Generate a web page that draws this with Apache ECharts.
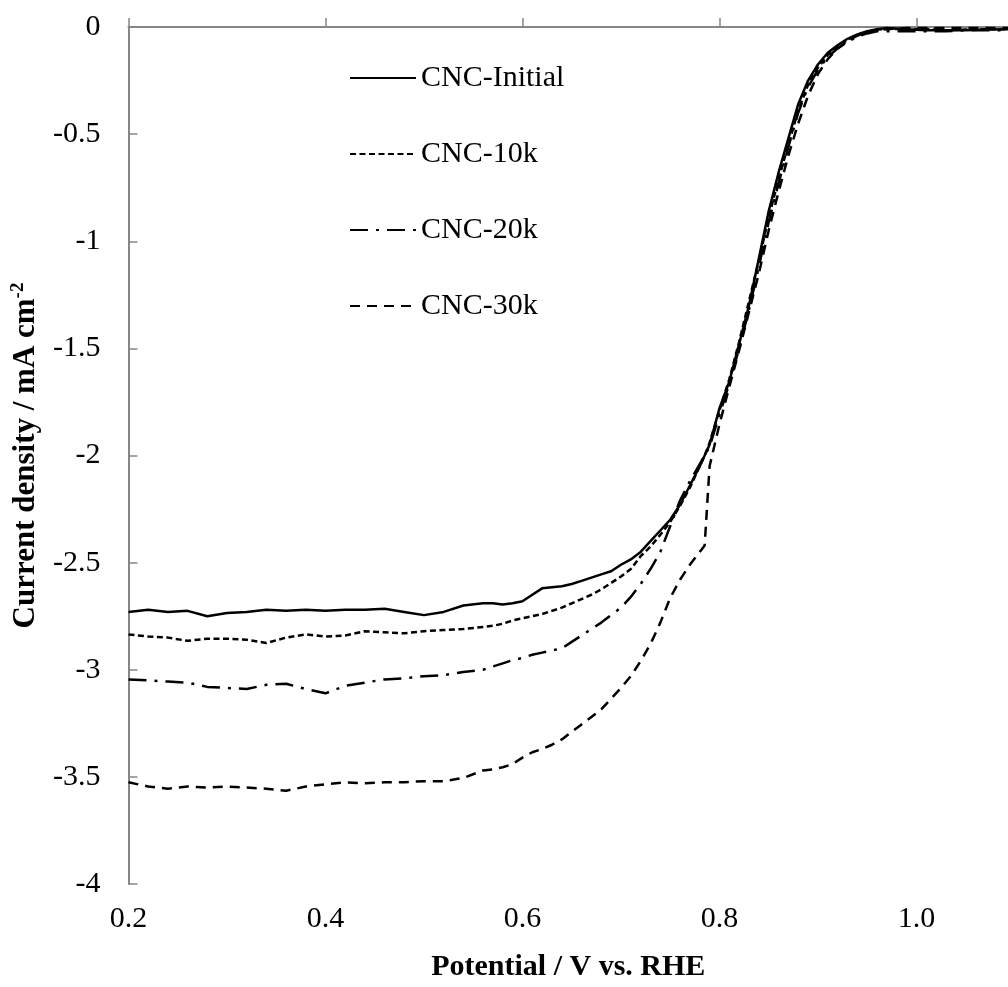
<!DOCTYPE html>
<html>
<head>
<meta charset="utf-8">
<script src="https://cdn.jsdelivr.net/npm/echarts@6/dist/echarts.min.js"></script>
<style>
html,body{margin:0;padding:0;background:#fff;}
#chart{width:1008px;height:987px;}
</style>
</head>
<body>
<div id="chart"></div>
<script>
// Potential (V vs. RHE)
const potential = [0.20,0.22,0.24,0.26,0.28,0.30,0.32,0.34,0.36,0.38,0.40,0.42,0.44,0.46,0.48,0.50,0.52,0.54,0.56,
  0.57,0.58,0.59,0.60,0.61,0.62,0.63,0.64,0.65,0.66,0.67,0.68,0.69,0.70,0.71,0.72,0.73,0.74,0.75,0.76,0.77,0.78,0.785,
  0.79,0.80,0.81,0.82,0.83,0.84,0.85,0.86,0.87,0.88,0.89,0.90,0.91,0.92,0.93,0.94,0.95,0.96,0.97,
  0.99,1.01,1.03,1.05,1.07,1.093];

const cncInitial = [-2.73,-2.72,-2.73,-2.725,-2.75,-2.735,-2.73,-2.72,-2.725,-2.72,-2.725,-2.72,-2.72,-2.715,-2.73,-2.745,-2.73,-2.70,-2.69,
  -2.69,-2.695,-2.69,-2.68,-2.65,-2.62,-2.615,-2.61,-2.60,-2.585,-2.57,-2.555,-2.54,-2.51,-2.485,-2.45,-2.40,-2.35,-2.30,-2.23,-2.14,-2.05,-2.00,
  -1.95,-1.78,-1.655,-1.48,-1.30,-1.08,-0.86,-0.68,-0.52,-0.36,-0.25,-0.175,-0.12,-0.085,-0.055,-0.035,-0.02,-0.01,-0.005,
  -0.01,-0.015,-0.015,-0.015,-0.012,-0.01];

const cnc10k = [-2.835,-2.845,-2.85,-2.865,-2.855,-2.855,-2.86,-2.875,-2.85,-2.835,-2.845,-2.84,-2.82,-2.825,-2.83,-2.82,-2.815,-2.81,-2.80,
  -2.795,-2.785,-2.77,-2.76,-2.75,-2.74,-2.725,-2.71,-2.69,-2.67,-2.65,-2.625,-2.595,-2.565,-2.53,-2.47,-2.425,-2.37,-2.31,-2.235,-2.15,-2.05,-2.00,
  -1.94,-1.79,-1.645,-1.47,-1.28,-1.09,-0.89,-0.71,-0.55,-0.39,-0.27,-0.19,-0.13,-0.09,-0.06,-0.04,-0.025,-0.012,-0.008,
  -0.01,-0.01,-0.015,-0.012,-0.01,-0.01];

const cnc20k = [-3.045,-3.05,-3.055,-3.06,-3.08,-3.085,-3.09,-3.07,-3.065,-3.09,-3.11,-3.075,-3.06,-3.045,-3.04,-3.03,-3.025,-3.01,-3.00,
  -2.985,-2.97,-2.955,-2.945,-2.93,-2.92,-2.91,-2.90,-2.87,-2.84,-2.81,-2.78,-2.745,-2.71,-2.66,-2.60,-2.53,-2.45,-2.33,-2.21,-2.12,-2.04,-2.00,
  -1.96,-1.81,-1.665,-1.50,-1.32,-1.12,-0.91,-0.73,-0.56,-0.40,-0.28,-0.20,-0.14,-0.10,-0.07,-0.045,-0.03,-0.02,-0.02,
  -0.02,-0.02,-0.02,-0.015,-0.015,-0.015];

const cnc30k = [-3.525,-3.545,-3.555,-3.545,-3.55,-3.545,-3.55,-3.555,-3.565,-3.545,-3.535,-3.525,-3.53,-3.525,-3.525,-3.52,-3.52,-3.505,-3.47,
  -3.465,-3.455,-3.44,-3.41,-3.385,-3.37,-3.35,-3.325,-3.29,-3.255,-3.22,-3.185,-3.135,-3.085,-3.03,-2.96,-2.88,-2.78,-2.665,-2.58,-2.51,-2.45,-2.42,
  -2.05,-1.855,-1.68,-1.51,-1.33,-1.15,-0.95,-0.77,-0.60,-0.45,-0.32,-0.22,-0.15,-0.10,-0.065,-0.04,-0.025,-0.015,-0.01,
  -0.005,-0.005,-0.005,-0.005,-0.005,-0.005];

const seriesNames = ['CNC-Initial','CNC-10k','CNC-20k','CNC-30k'];
const seriesValues = [cncInitial, cnc10k, cnc20k, cnc30k];
const dashTypes = ['solid', [6,3.5], [18,8,3,8], [10,7]];

const FONT = '"Liberation Serif","Times New Roman",serif';

const chart = echarts.init(document.getElementById('chart'), null, {renderer:'canvas'});
chart.setOption({
  animation: false,
  backgroundColor: '#ffffff',
  grid: {left: 128.5, top: 27, right: 0, bottom: 98, containLabel: false},
  legend: {
    orient: 'vertical',
    left: 344, top: 58,
    itemWidth: 66, itemHeight: 14, itemGap: 46,
    itemStyle: {opacity: 0},
    textStyle: {fontFamily: FONT, fontSize: 30, color: '#000', lineHeight: 30, padding: [0,0,0,0]},
    data: seriesNames
  },
  xAxis: {
    type: 'value', min: 0.2, max: 1.093, interval: 0.2,
    axisLine: {lineStyle: {color: '#878787', width: 2}},
    axisTick: {inside: true, length: 9, lineStyle: {color: '#878787', width: 1.5}},
    splitLine: {show: false},
    axisLabel: {fontFamily: FONT, fontSize: 30, color: '#000', margin: 20, showMaxLabel: false,
      formatter: v => v.toFixed(1)},
    name: 'Potential / V vs. RHE', nameLocation: 'middle', nameGap: 68,
    nameTextStyle: {fontFamily: FONT, fontSize: 30, fontWeight: 'bold', color: '#000'}
  },
  yAxis: {
    type: 'value', min: -4, max: 0, interval: 0.5,
    axisLine: {lineStyle: {color: '#878787', width: 2}},
    axisTick: {inside: true, length: 9, lineStyle: {color: '#878787', width: 1.5}},
    splitLine: {show: false},
    axisLabel: {fontFamily: FONT, fontSize: 30, color: '#000', margin: 28},
    name: '{m|Current density / mA cm}{s|-2}', nameLocation: 'middle', nameGap: 86,
    nameTextStyle: {
      rich: {
        m: {fontFamily: FONT, fontSize: 31, fontWeight: 'bold', color: '#000', lineHeight: 34},
        s: {fontFamily: FONT, fontSize: 19, fontWeight: 'bold', color: '#000', verticalAlign: 'top', lineHeight: 34}
      }
    }
  },
  series: seriesNames.map((name, i) => ({
    name: name,
    type: 'line',
    symbol: 'none',
    showSymbol: false,
    smooth: false,
    data: potential.map((v, k) => [v, seriesValues[i][k]]),
    lineStyle: {color: '#000', width: 2.5, type: dashTypes[i]},
    itemStyle: {color: '#000'}
  }))
});
</script>
</body>
</html>
